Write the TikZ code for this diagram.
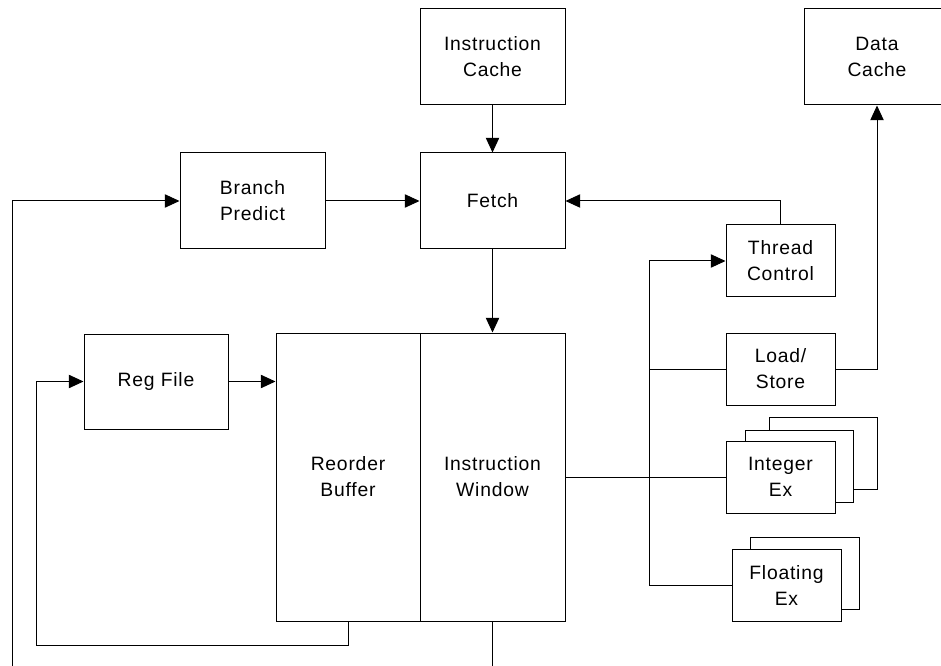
\documentclass[tikz,border=0pt]{standalone}
\usepackage{fontspec}
\setmainfont[LetterSpace=4]{Liberation Sans}
\usetikzlibrary{arrows.meta}
\begin{document}
\begin{tikzpicture}[x=0.75pt,y=-0.75pt,
  bx/.style 2 args={draw, fill=white, line width=0.75pt,
    minimum width=#1*0.75pt, minimum height=#2*0.75pt,
    inner sep=0pt, align=center,
    font=\fontsize{14.5}{19.5}\selectfont},
  wire/.style={line width=0.75pt},
  flow/.style={wire, -{Triangle[length=11pt,width=10pt]}}]
\clip (0,0) rectangle (941,666);
\useasboundingbox (0,0) rectangle (941,666);

% caches and front end
\node[bx={145}{96}] (icache) at (492.5,57) {Instruction\\Cache};
\node[bx={146}{96}] (dcache) at (877,57) {Data\\Cache};
\node[bx={145}{96}] (fetch) at (492.5,201) {Fetch};
\node[bx={145}{96}] (bpred) at (252.5,201) {Branch\\Predict};

% window and reorder buffer
\node[bx={144}{288}] (rob) at (348,477) {Reorder\\Buffer};
\node[bx={145}{288}] (iwin) at (492.5,477) {Instruction\\Window};
\node[bx={144}{95}] (regfile) at (156,381.5) {Reg File};

% functional units
\node[bx={109}{72}] (thread) at (780.5,261) {Thread\\Control};
\node[bx={109}{72}] (ldst) at (780.5,369) {Load/\\Store};
\node[bx={108}{72}] (int3) at (823,453) {};
\node[bx={108}{72}] (int2) at (799,466) {};
\node[bx={109}{72}] (int1) at (780.5,477) {Integer\\Ex};
\node[bx={109}{72}] (flt2) at (804.5,573) {};
\node[bx={109}{72}] (flt1) at (786.5,585) {Floating\\Ex};

% bus and loose ends
\coordinate (busmid) at (649,477);
\coordinate (busld) at (649,369);
\coordinate (leftend) at (12,666);
\coordinate (loopcorner) at (36,645);
\coordinate (iwinend) at (492.5,666);

% connectors
\draw[flow] (icache) -- (fetch);
\draw[flow] (bpred) -- (fetch);
\draw[flow] (leftend) |- (bpred.west);
\draw[flow] (fetch) -- (iwin);
\draw[flow] (thread.north) |- (fetch.east);
\draw[flow] (regfile.east) -- (regfile.east -| rob.west);
\draw[flow] (rob.south) |- (loopcorner) |- (regfile.west);
\draw[wire] (iwin.south) -- (iwinend);
\draw[wire] (iwin.east) -- (int1.west);
\draw[wire] (flt1.west) -| (busmid);
\draw[flow] (busmid) |- (thread.west);
\draw[wire] (busld) -- (ldst.west);
\draw[flow] (ldst.east) -| (dcache.south);
\end{tikzpicture}
\end{document}
